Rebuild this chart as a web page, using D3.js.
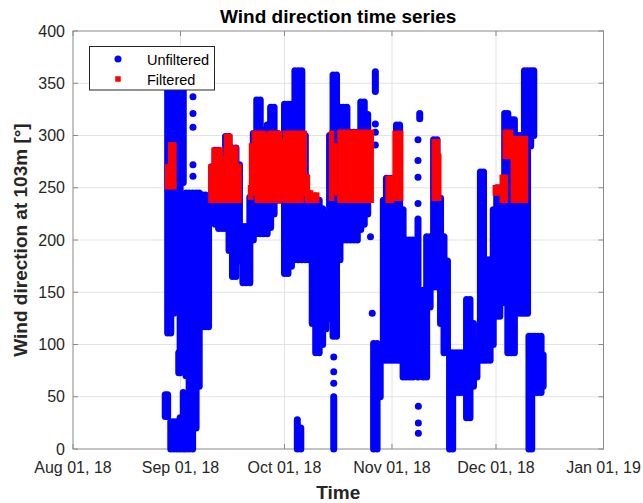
<!DOCTYPE html>
<html><head><meta charset="utf-8">
<script src="https://cdn.jsdelivr.net/npm/d3@7"></script>
<style>body{margin:0;background:#fff}svg{display:block}</style>
</head><body><svg id="c" width="643" height="503"></svg>
<script>
// ---- data (days since Aug 01 2018, value range in degrees) ----
const startDate = Date.UTC(2018, 7, 1);
const xTickDates = [Date.UTC(2018,7,1), Date.UTC(2018,8,1), Date.UTC(2018,9,1), Date.UTC(2018,10,1), Date.UTC(2018,11,1), Date.UTC(2019,0,1)];
const xTickLabels = ["Aug 01, 18", "Sep 01, 18", "Oct 01, 18", "Nov 01, 18", "Dec 01, 18", "Jan 01, 19"];
const yTicks = [0, 50, 100, 150, 200, 250, 300, 350, 400];
const seriesNames = ["Unfiltered", "Filtered"];

// Unfiltered samples: [day, low, high] (dense vertical clusters of points)
const unfiltered = [
[26.6,31,52],[27.3,31,52],[27.3,111,360],[28.2,0,26],[28.2,111,365],[29.1,0,26],[29.1,130,370],
[30.0,0,26],[30.0,200,372],[30.5,73,92],[30.9,0,30],[30.9,73,205],[30.9,215,372],
[31.8,0,54],[31.8,80,240],[31.8,255,372],[32.6,0,50],[32.6,70,245],[33.5,0,245],[34.5,0,245],
[34.6,337,337],[34.6,321,321],[34.6,308,308],[34.6,272,272],[34.6,261,261],
[35.5,20,245],[36.4,60,245],[37.3,117,243],[38.2,117,243],[39.1,117,241],
[40.0,219,270],[41.0,215,286],[42.0,211,286],[43.0,211,280],[44.0,211,299],[45.0,190,299],
[46.0,165,288],[47.0,165,288],[48.0,180,272],[49.0,159,213],[50.0,159,213],[51.0,159,241],
[52.0,200,302],[53.0,206,334],[54.0,206,334],[55.0,206,305],[56.0,206,310],[57.0,212,327],
[58.0,225,327],[59.0,238,302],[60.0,238,300],[61.0,168,330],[62.0,168,330],[63.0,175,330],
[64.0,181,362],[64.7,0,28],[65.0,181,362],[65.7,0,20],[66.0,181,362],[67.0,181,300],[68.0,181,245],
[69.0,120,238],[70.0,92,238],[71.0,92,238],[72.0,100,230],[73.0,115,225],[74.0,125,300],
[75.0,108,358],[75.2,88,88],[75.2,74,74],[75.2,63,63],[75.2,0,50],[76.0,108,358],
[77.0,181,327],[78.0,200,327],[79.0,200,327],[80.0,200,303],[81.0,200,303],[82.0,200,303],
[83.0,210,332],[84.0,215,332],[85.0,225,320],[85.8,203,203],[86.3,130,130],[86.7,0,101],
[87.2,342,361],[87.2,311,311],[87.2,303,303],[87.2,291,291],[87.7,0,101],[88.6,50,100],
[89.5,85,238],[90.4,85,259],[91.4,85,259],[92.3,85,259],[93.3,85,310],[94.2,85,310],
[95.2,69,229],[96.1,69,200],[97.1,69,200],[98.0,69,200],
[99.5,69,220],[99.5,235,235],[99.5,260,260],[99.5,276,276],[99.5,296,296],
[99.6,41,41],[99.6,25,25],[99.6,15,15],[100.0,316,321],
[101.0,69,152],[102.0,69,203],[103.0,136,203],[104.0,155,296],[105.0,155,296],
[106.0,120,240],[107.0,92,203],[108.0,92,180],[108.6,0,92],[109.5,0,92],
[110.5,54,92],[111.5,54,92],[112.5,54,92],[113.5,30,143],[114.5,30,143],
[115.5,60,120],[116.5,69,101],[117.5,85,265],[118.4,85,265],[119.3,85,181],[120.3,85,181],
[121.2,100,229],[122.2,127,250],[123.1,127,250],[124.5,140,321],[125.4,92,321],
[126.4,92,315],[127.3,92,315],[128.3,130,300],[129.3,130,300],[130.2,130,362],[131.1,130,362],
[131.5,0,108],[132.0,290,362],[132.3,0,108],[132.9,300,362],[133.2,54,108],
[134.1,54,108],[135.0,54,108],[135.6,60,90]
];

// Filtered samples: [day, low, high]
const filtered = [
[27.3,251,270],[28.2,251,291],[29.1,251,291],
[39.8,238,270],[40.7,238,286],[41.6,238,286],[42.5,238,286],[43.4,238,278],[44.3,238,299],
[45.2,238,299],[46.1,238,288],[47.0,238,288],[47.9,238,270],
[51.2,241,250],[51.5,255,290],[52.3,245,302],[53.2,238,302],[54.1,238,302],[55.0,238,302],
[55.9,238,300],[56.8,238,302],[57.7,238,302],[58.6,238,302],[59.5,238,302],[60.4,240,295],
[61.3,238,302],[62.2,238,302],[63.1,238,302],[64.0,238,302],[64.9,238,302],[65.8,238,302],
[66.7,245,302],[67.6,238,260],[68.5,238,245],[69.4,238,243],[70.3,238,243],
[74.6,240,302],[75.5,245,290],
[77.0,238,303],[77.9,238,303],[78.8,238,303],[79.7,238,303],[80.6,238,303],[81.5,238,303],
[82.4,238,303],[83.3,238,303],[84.2,238,303],[85.1,238,303],[86.0,238,303],
[90.9,238,259],[91.8,238,259],[92.9,240,302],[93.8,240,302],[94.5,240,302],
[104.2,240,294],[105.1,240,294],[105.5,240,280],
[121.8,245,250],[122.5,245,250],[123.8,238,260],[124.7,238,260],
[124.7,280,303],[125.6,280,303],[126.2,280,303],
[127.0,238,297],[127.9,238,297],[128.8,238,297],[129.7,238,297],[130.5,238,297]
];

// ---- layout ----
const L = 73, R = 603.5, T = 31, B = 449;
const svg = d3.select("#c");
const x = d3.scaleUtc().domain([xTickDates[0], xTickDates[5]]).range([L, R]);
const y = d3.scaleLinear().domain([0, 400]).range([B, T]);
const dayToDate = d => new Date(startDate + d * 864e5);
const axisGray = "#262626";

// grid
const g = svg.append("g");
g.selectAll(".gx").data(xTickDates.slice(1, -1)).join("line")
  .attr("x1", d => x(d)).attr("x2", d => x(d)).attr("y1", T).attr("y2", B)
  .attr("stroke", "#e3e3e3").attr("stroke-width", 1);
g.selectAll(".gy").data(yTicks.slice(1, -1)).join("line")
  .attr("x1", L).attr("x2", R).attr("y1", d => y(d)).attr("y2", d => y(d))
  .attr("stroke", "#e3e3e3").attr("stroke-width", 1);

// ticks (inward, all sides)
const tk = svg.append("g").attr("stroke", "#8a8a8a").attr("stroke-width", 1);
xTickDates.forEach(d => {
  tk.append("line").attr("x1", x(d)).attr("x2", x(d)).attr("y1", B).attr("y2", B - 5);
  tk.append("line").attr("x1", x(d)).attr("x2", x(d)).attr("y1", T).attr("y2", T + 5);
});
yTicks.forEach(v => {
  tk.append("line").attr("x1", L).attr("x2", L + 5).attr("y1", y(v)).attr("y2", y(v));
  tk.append("line").attr("x1", R).attr("x2", R - 5).attr("y1", y(v)).attr("y2", y(v));
});
// box
svg.append("rect").attr("x", L).attr("y", T).attr("width", R - L).attr("height", B - T)
  .attr("fill", "none").attr("stroke", "#8a8a8a").attr("stroke-width", 1);

// data: unfiltered (blue circles)
const blue = "#0000ff", red = "#ff0000";
const pts = svg.append("g");
pts.selectAll(".u").data(unfiltered.filter(r => r[1] !== r[2])).join("line")
  .attr("x1", r => x(dayToDate(r[0]))).attr("x2", r => x(dayToDate(r[0])))
  .attr("y1", r => y(r[1])).attr("y2", r => y(r[2]))
  .attr("stroke", blue).attr("stroke-width", 7).attr("stroke-linecap", "round");
pts.selectAll(".ud").data(unfiltered.filter(r => r[1] === r[2])).join("circle")
  .attr("cx", r => x(dayToDate(r[0]))).attr("cy", r => y(r[1])).attr("r", 3.5).attr("fill", blue);
// filtered (red squares)
pts.selectAll(".f").data(filtered).join("line")
  .attr("x1", r => x(dayToDate(r[0]))).attr("x2", r => x(dayToDate(r[0])))
  .attr("y1", r => y(r[1])).attr("y2", r => y(r[2]))
  .attr("stroke", red).attr("stroke-width", 5.5).attr("stroke-linecap", "square");

// tick labels
const font = "'Liberation Sans', Arial, Helvetica, sans-serif";
svg.append("g").selectAll("text").data(xTickDates).join("text")
  .attr("x", d => x(d)).attr("y", 473).attr("text-anchor", "middle")
  .attr("font-family", font).attr("font-size", 16).attr("fill", axisGray)
  .text((d, i) => xTickLabels[i]);
svg.append("g").selectAll("text").data(yTicks).join("text")
  .attr("x", 65).attr("y", d => y(d)).attr("dy", "0.35em").attr("text-anchor", "end")
  .attr("font-family", font).attr("font-size", 16).attr("fill", axisGray)
  .text(d => d);

// title & labels
svg.append("text").attr("x", (L + R) / 2).attr("y", 23).attr("text-anchor", "middle")
  .attr("font-family", font).attr("font-weight", "bold").attr("font-size", 19).attr("fill", "#000")
  .text("Wind direction time series");
svg.append("text").attr("x", (L + R) / 2).attr("y", 499).attr("text-anchor", "middle")
  .attr("font-family", font).attr("font-weight", "bold").attr("font-size", 19).attr("fill", axisGray)
  .text("Time");
svg.append("text").attr("transform", `translate(27,${(T + B) / 2}) rotate(-90)`).attr("text-anchor", "middle")
  .attr("font-family", font).attr("font-weight", "bold").attr("font-size", 19).attr("fill", axisGray)
  .text("Wind direction at 103m [°]");

// legend
const lg = svg.append("g");
lg.append("rect").attr("x", 89.5).attr("y", 46.5).attr("width", 125).attr("height", 43.5)
  .attr("fill", "#fff").attr("stroke", axisGray).attr("stroke-width", 1);
lg.append("circle").attr("cx", 118).attr("cy", 59).attr("r", 3.5).attr("fill", blue);
lg.append("rect").attr("x", 115.25).attr("y", 76.25).attr("width", 5.5).attr("height", 5.5).attr("fill", red);
lg.selectAll(".lt").data(seriesNames).join("text")
  .attr("x", 147).attr("y", (d, i) => 64.5 + i * 20)
  .attr("font-family", font).attr("font-size", 14.5).attr("fill", "#000")
  .text(d => d);
</script></body></html>
